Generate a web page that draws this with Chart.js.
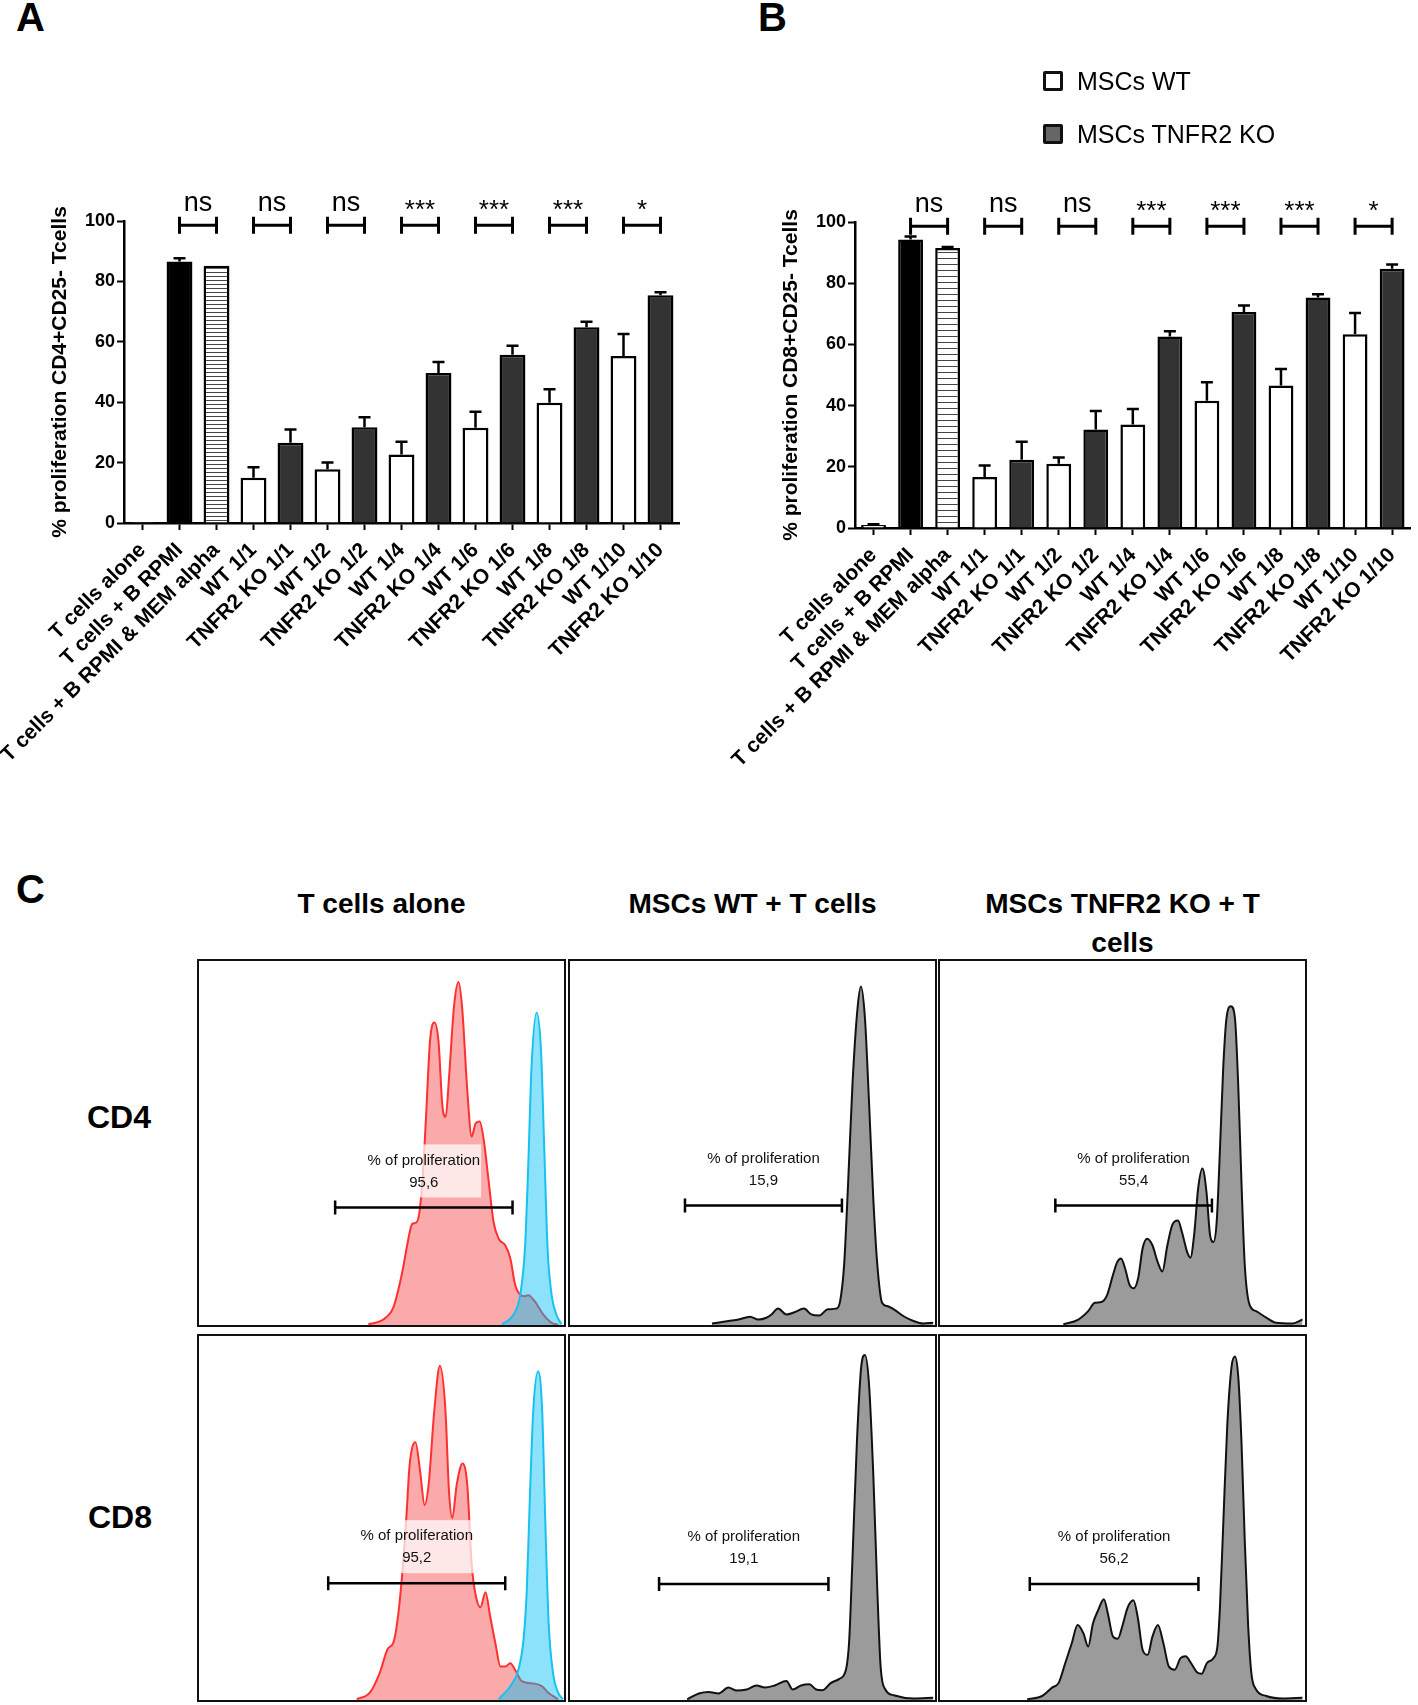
<!DOCTYPE html>
<html>
<head>
<meta charset="utf-8">
<title>MSCs TNFR2 KO – T cell proliferation</title>
<script src="https://cdn.jsdelivr.net/npm/chart.js@4.4.1/dist/chart.umd.min.js"></script>
<style>
  html, body { margin:0; padding:0; background:#fff; }
  body { width:1418px; height:1705px; position:relative; overflow:hidden; font-family:'Liberation Sans', Arial, sans-serif; color:#000; }
  .abs { position:absolute; }
  .letter { font-weight:bold; font-size:40px; line-height:40px; }
  .legend-row { display:flex; align-items:center; font-size:25px; height:26px; white-space:nowrap; }
  .swatch { width:20px; height:20px; box-sizing:border-box; border:3px solid #111; border-radius:2px; margin-right:14px; }
  .col-title { width:369px; text-align:center; font-weight:bold; font-size:28px; line-height:39px; }
  .row-title { font-weight:bold; font-size:32px; line-height:32px; }
  .hbox { width:369px; height:368px; box-sizing:border-box; border:2px solid #111; background:#fff; }
  .hbox canvas { display:block; }
</style>
</head>
<body>

<div class="abs letter" style="left:16px;top:-3px">A</div>
<div class="abs letter" style="left:758px;top:-3px">B</div>
<div class="abs letter" style="left:16px;top:869px">C</div>

<canvas id="chart-a" class="abs" style="left:0;top:0" width="702" height="780"></canvas>
<canvas id="chart-b" class="abs" style="left:730px;top:0" width="688" height="780"></canvas>

<div class="abs legend-row" style="left:1043px;top:68px"><span class="swatch" style="background:#fff"></span><span id="leg-0"></span></div>
<div class="abs legend-row" style="left:1043px;top:121px"><span class="swatch" style="background:#666"></span><span id="leg-1"></span></div>

<div class="abs col-title" style="left:197px;top:884px">T cells alone</div>
<div class="abs col-title" style="left:568px;top:884px">MSCs WT + T cells</div>
<div class="abs col-title" style="left:938px;top:884px">MSCs TNFR2 KO + T<br>cells</div>

<div class="abs row-title" style="left:87px;top:1101px">CD4</div>
<div class="abs row-title" style="left:88px;top:1501px">CD8</div>

<div class="abs hbox" style="left:197px;top:959px"><canvas id="h-cd4-alone" width="365" height="364"></canvas></div>
<div class="abs hbox" style="left:568px;top:959px"><canvas id="h-cd4-wt" width="365" height="364"></canvas></div>
<div class="abs hbox" style="left:938px;top:959px"><canvas id="h-cd4-ko" width="365" height="364"></canvas></div>
<div class="abs hbox" style="left:197px;top:1334px"><canvas id="h-cd8-alone" width="365" height="364"></canvas></div>
<div class="abs hbox" style="left:568px;top:1334px"><canvas id="h-cd8-wt" width="365" height="364"></canvas></div>
<div class="abs hbox" style="left:938px;top:1334px"><canvas id="h-cd8-ko" width="365" height="364"></canvas></div>

<script>
'use strict';

// ── Bar data (panels A & B) ───────────────────────────────────────────────────
var categories = ['T cells alone','T cells + B RPMI','T cells + B RPMI & MEM alpha',
  'WT 1/1','TNFR2 KO 1/1','WT 1/2','TNFR2 KO 1/2','WT 1/4','TNFR2 KO 1/4',
  'WT 1/6','TNFR2 KO 1/6','WT 1/8','TNFR2 KO 1/8','WT 1/10','TNFR2 KO 1/10'];
var barGroups = ['alone','rpmi','mem','wt','ko','wt','ko','wt','ko','wt','ko','wt','ko','wt','ko'];

var cd4Means = [0.3, 86.6, 85.2, 15.0, 26.6, 17.8, 31.7, 22.7, 49.7, 31.5, 55.7, 39.8, 64.8, 55.3, 75.4];
var cd4Sem   = [0,   1.1,  0,    3.5,  4.4,  2.2,  3.3,  4.2,  3.6,  5.3,  3.0,  4.5,  1.8,  7.3,  1.0];
var cd8Means = [1.0, 94.3, 91.5, 16.7, 22.3, 21.0, 32.2, 33.8, 62.6, 41.6, 70.6, 46.6, 75.3, 63.3, 84.7];
var cd8Sem   = [0.2, 1.0,  0.3,  3.7,  5.9,  2.0,  6.0,  5.1,  1.7,  6.0,  2.1,  5.4,  1.1,  7.0,  1.4];

var sigPairs  = [[1,2],[3,4],[5,6],[7,8],[9,10],[11,12],[13,14]];
var cd4Sig    = ['ns','ns','ns','***','***','***','*'];
var cd8Sig    = ['ns','ns','ns','***','***','***','*'];
var sigLevel  = 98.6;
var yTicks    = [0, 20, 40, 60, 80, 100];
var legendLabels = ['MSCs WT', 'MSCs TNFR2 KO'];

// ── Histogram data (panel C) : [channel, count] ──────────────────────────────
var cd4AloneStim = [[46.4,0.2],[50.5,1.5],[53.2,4.7],[54.5,9.2],[55.9,15.6],[57.2,22.8],[58.4,27.8],[59.5,28.1],[60.4,31],[61.3,40.9],[62.2,57.2],[63.3,78.1],[64.5,83.1],[65.6,78.1],[66.7,60],[67.6,57.2],[68.5,68],[69.9,87.9],[71.1,94.2],[72.1,87.1],[73.5,64.5],[74.7,51.8],[75.8,55.4],[76.9,55.9],[78,50.9],[79.4,39.1],[80.7,28.3],[82.1,23.7],[83.9,21.9],[85.3,18.3],[86.6,11.1],[88,8.3],[89.3,7.9],[90.2,8.2],[92,6.5],[94.3,2.9],[96.6,0.6],[98.4,0.1]];
var cd4AloneCtrl = [[83,0.2],[86.2,2.9],[88,8.3],[89.3,21],[90.2,43.7],[91.1,70.8],[92.5,85.8],[93.7,75.4],[94.6,48.2],[95.5,21],[96.6,8.3],[97.9,2.9],[99.3,0.2]];
var cd4Wt = [[38.9,0.4],[43.4,1.1],[46.2,1.5],[49.3,2.3],[51.6,1.5],[53.8,2],[55.2,2.9],[57,4.5],[59.3,2.9],[61.5,3.5],[64.1,4.5],[66.1,2.9],[68.3,2.6],[70.6,4.3],[72.9,4.5],[74,6.5],[75.1,16.5],[76.2,39.1],[77.4,66.3],[78.7,86.2],[79.7,93],[80.8,84.4],[81.9,61.8],[83.1,34.6],[84.2,16.5],[85.5,6.1],[86.9,5.2],[88.7,4.3],[91.4,2.4],[94.1,1.1],[96.8,0.4],[99.5,0.6]];
var cd4Ko = [[33.8,0.2],[37.9,1.5],[40.6,3.8],[42.4,6.1],[44.2,6.3],[45.8,8.3],[47.4,13.8],[48.6,17.4],[49.6,18.3],[50.7,15.6],[51.9,11.1],[53.1,10.1],[54.3,12.9],[55.5,21],[56.7,23.7],[58.2,21.9],[59.6,17.4],[60.9,14.7],[62.3,21.9],[63.6,27.4],[65.2,28.7],[66.3,25.5],[67.7,20.1],[68.6,18.5],[69.7,25.5],[70.7,37.3],[71.9,43],[73,36.6],[74,24.6],[74.9,22.8],[75.8,28.3],[76.7,48.2],[77.6,70.8],[78.5,84.4],[79.7,87.6],[80.8,84.4],[81.7,66.1],[82.6,39],[83.5,16.5],[84.8,5.6],[86.6,3.8],[89.4,2],[92.1,0.6],[96.6,0.4],[99.3,1.5]];
var cd8AloneStim = [[43.2,0.2],[46.8,2],[49.5,7.4],[51.8,14.2],[53.2,15.6],[54.5,22.8],[55.9,37.3],[56.8,50],[57.7,64.5],[59.3,70.8],[60.6,62.7],[61.8,53.6],[62.9,59.1],[64.5,79.9],[66,91.8],[67.5,79.9],[68.5,57.2],[69.4,50],[70.6,59.1],[72.2,65],[73.5,59.1],[74.7,37.3],[75.9,28.3],[77.1,25.5],[78.5,29.6],[79.8,22.8],[81.2,15.6],[82.6,9.2],[83.9,9.2],[85.3,10.1],[86.6,8.3],[88.4,5.2],[92,4.5],[93.9,3.8],[95.7,2],[98.4,0.2]];
var cd8AloneCtrl = [[82.1,0.2],[85.3,3.8],[87.5,8.3],[88.9,16.5],[89.8,30],[90.7,57.2],[91.6,79.9],[92.9,90.3],[94,79.9],[94.9,48.2],[95.8,21],[97,7.4],[98.4,2],[99.7,0.2]];
var cd8Wt = [[32.1,0.2],[35.3,1.8],[38,2.2],[40.7,1.8],[43.4,3.4],[45.7,2.6],[48.4,2.9],[51.1,4],[53.4,3.4],[56.1,4],[59.3,5.2],[61,2.9],[63.3,4],[65.6,4.3],[67.4,2.9],[69.2,2.7],[71.5,4.7],[73.8,5.8],[75.6,8.3],[76.5,16.5],[77.4,39.1],[78.6,70.8],[79.8,91.7],[80.8,94.8],[81.9,87.1],[83.1,61.8],[84.2,30.1],[85.1,9.2],[86.4,2.9],[88.7,1.3],[94.1,0.4],[99.5,0.6]];
var cd8Ko = [[23.9,0.2],[28,1.1],[30.7,3.4],[32.5,4.7],[34.3,10.1],[36.1,15.6],[37.7,20.6],[39.3,18.3],[40.6,14.7],[41.9,21],[43.3,24.6],[44.9,27.7],[46,23.7],[47.4,17.4],[48.7,16.8],[50.1,20.8],[51.4,25.4],[53,27.4],[54.2,22.6],[55.5,13.8],[56.9,12.4],[58.2,17.4],[59.7,20.6],[61.2,15.6],[62.7,9.2],[64.3,8.3],[65.9,11.5],[67.3,12],[68.8,10.1],[70.4,7.6],[71.7,7.2],[73.1,10.1],[74.9,11.5],[76,14.7],[76.7,25.5],[77.6,48.2],[78.7,75.4],[79.9,91.7],[80.8,94.4],[81.7,89],[82.6,70.8],[83.5,43.7],[84.4,21],[85.3,7.4],[86.6,2.9],[89.4,1.1],[93.9,0.4],[99.3,0.6]];

// gates (one per histogram, order: CD4 alone, WT, KO, CD8 alone, WT, KO)
var gateFrom   = [37.3, 31.5, 31.6, 35.4, 24.4, 24.6];
var gateTo     = [85.9, 74.5, 74.5, 83.9, 70.8, 70.8];
var gateLevel  = [32.3, 32.8, 32.8, 32.1, 31.9, 31.9];
var gateValues = ['95,6', '15,9', '55,4', '95,2', '19,1', '56,2'];

// ── Shared bits ───────────────────────────────────────────────────────────────
var FONT = "'Liberation Sans', Arial, sans-serif";
var groupFill = { alone:'#ffffff', rpmi:'#000000', wt:'#ffffff', ko:'#333333' };

function stripePattern(ctx, gap) {
  var c = document.createElement('canvas'); c.width = 8; c.height = gap;
  var x = c.getContext('2d');
  x.fillStyle = '#fff'; x.fillRect(0, 0, 8, gap);
  x.fillStyle = '#444'; x.fillRect(0, 0, 8, 1);
  return ctx.createPattern(c, 'repeat');
}

// upward-only SEM whiskers
var errorBars = {
  id: 'errorBars',
  afterDatasetsDraw: function(chart) {
    var o = chart.options.plugins.errorBars; if (!o) return;
    var meta = chart.getDatasetMeta(0), ys = chart.scales.y, ctx = chart.ctx;
    var means = chart.data.datasets[0].data;
    ctx.save(); ctx.strokeStyle = '#000'; ctx.lineWidth = 2.5;
    meta.data.forEach(function(bar, i) {
      var s = o.sem[i]; if (!s) return;
      var y0 = ys.getPixelForValue(means[i]), y1 = ys.getPixelForValue(means[i] + s);
      ctx.beginPath();
      ctx.moveTo(bar.x, y0); ctx.lineTo(bar.x, y1);
      ctx.moveTo(bar.x - 6, y1); ctx.lineTo(bar.x + 6, y1);
      ctx.stroke();
    });
    ctx.restore();
  }
};

// significance brackets above the pairs
var sigBrackets = {
  id: 'sigBrackets',
  afterDraw: function(chart) {
    var o = chart.options.plugins.sigBrackets; if (!o) return;
    var xs = chart.scales.x, ys = chart.scales.y, ctx = chart.ctx;
    var y = ys.getPixelForValue(o.level);
    ctx.save();
    ctx.strokeStyle = '#000'; ctx.fillStyle = '#000'; ctx.lineWidth = 3;
    ctx.textAlign = 'center'; ctx.textBaseline = 'alphabetic';
    o.pairs.forEach(function(p, k) {
      var x0 = xs.getPixelForValue(p[0]), x1 = xs.getPixelForValue(p[1]);
      ctx.beginPath();
      ctx.moveTo(x0, y); ctx.lineTo(x1, y);
      ctx.moveTo(x0, y - 8.5); ctx.lineTo(x0, y + 8.5);
      ctx.moveTo(x1, y - 8.5); ctx.lineTo(x1, y + 8.5);
      ctx.stroke();
      var lab = o.labels[k];
      if (lab === 'ns') { ctx.font = '27px ' + FONT; ctx.fillText(lab, (x0 + x1) / 2, y - 14); }
      else { ctx.font = '26px ' + FONT; ctx.fillText(lab, (x0 + x1) / 2, y - 7); }
    });
    ctx.restore();
  }
};

// gate bar + label on flow histograms
var gateMarker = {
  id: 'gateMarker',
  afterDatasetsDraw: function(chart) {
    var g = chart.options.plugins.gateMarker; if (!g) return;
    var xs = chart.scales.x, ys = chart.scales.y, ctx = chart.ctx;
    var x0 = xs.getPixelForValue(g.from), x1 = xs.getPixelForValue(g.to);
    var y = ys.getPixelForValue(g.level), cx = (x0 + x1) / 2;
    ctx.save();
    ctx.font = '15px ' + FONT;
    var w = ctx.measureText('% of proliferation').width;
    ctx.fillStyle = 'rgba(255,255,255,0.72)';
    ctx.fillRect(cx - w / 2 - 1, y - 63, w + 2, 53);
    ctx.fillStyle = '#111'; ctx.textAlign = 'center'; ctx.textBaseline = 'middle';
    ctx.fillText('% of proliferation', cx, y - 47);
    ctx.fillText(g.value, cx, y - 25);
    ctx.strokeStyle = '#000'; ctx.lineWidth = 2.5;
    ctx.beginPath();
    ctx.moveTo(x0, y); ctx.lineTo(x1, y);
    ctx.moveTo(x0, y - 7); ctx.lineTo(x0, y + 7);
    ctx.moveTo(x1, y - 7); ctx.lineTo(x1, y + 7);
    ctx.stroke();
    ctx.restore();
  }
};

// ── Bar charts ────────────────────────────────────────────────────────────────
function makeBarChart(id, means, sem, sig, title, geom) {
  var canvas = document.getElementById(id), ctx = canvas.getContext('2d');
  var colors = barGroups.map(function(g) { return g === 'mem' ? stripePattern(ctx, geom.stripe) : groupFill[g]; });
  return new Chart(canvas, {
    type: 'bar',
    data: {
      labels: categories,
      datasets: [{ data: means, backgroundColor: colors, borderColor: '#000', borderWidth: 2.5,
                   barPercentage: geom.bar, categoryPercentage: 1 }]
    },
    options: {
      responsive: false, animation: false, events: [],
      layout: { padding: { top: geom.top, right: geom.right, left: 0, bottom: 0 } },
      plugins: {
        legend: { display: false }, tooltip: { enabled: false },
        errorBars: { sem: sem },
        sigBrackets: { pairs: sigPairs, labels: sig, level: sigLevel }
      },
      scales: {
        x: {
          grid: { display: true, offset: false, drawOnChartArea: false, drawTicks: true, tickLength: 7, tickWidth: 2, tickColor: '#000' },
          border: { display: true, color: '#000', width: 2.5 },
          ticks: { color: '#000', font: { family: FONT, weight: 'bold', size: 21 }, minRotation: 45, maxRotation: 45, autoSkip: false, padding: 8 },
          afterFit: function(s) { s.height = geom.xAxisHeight; }
        },
        y: {
          min: 0, max: 100,
          afterBuildTicks: function(s) { s.ticks = yTicks.map(function(v) { return { value: v }; }); },
          grid: { drawOnChartArea: false, drawTicks: true, tickLength: 7, tickWidth: 2, tickColor: '#000' },
          border: { display: true, color: '#000', width: 2.5 },
          ticks: { color: '#000', font: { family: FONT, weight: 'bold', size: 18 }, padding: 2 },
          title: { display: true, text: title, color: '#000', font: { family: FONT, weight: 'bold', size: 21 },
                   padding: { top: geom.titlePad, bottom: 0 } },
          afterFit: function(s) { s.width = geom.yAxisWidth; }
        }
      }
    },
    plugins: [errorBars, sigBrackets]
  });
}

makeBarChart('chart-a', cd4Means, cd4Sem, cd4Sig, '% proliferation CD4+CD25- Tcells',
  { top: 221, right: 23, xAxisHeight: 257, yAxisWidth: 124, titlePad: 48, bar: 0.70, stripe: 4 });
makeBarChart('chart-b', cd8Means, cd8Sem, cd8Sig, '% proliferation CD8+CD25- Tcells',
  { top: 222, right: 2, xAxisHeight: 252, yAxisWidth: 125, titlePad: 49, bar: 0.67, stripe: 6 });

document.getElementById('leg-0').textContent = legendLabels[0];
document.getElementById('leg-1').textContent = legendLabels[1];

// ── Flow histograms ───────────────────────────────────────────────────────────
var STIM = { line: '#ff3030', fill: 'rgba(245,85,85,0.5)',  order: 1 };
var CTRL = { line: '#17c2f0', fill: 'rgba(0,190,245,0.45)', order: 0 };
var GREY = { line: '#111111', fill: '#9b9b9b',              order: 0 };

function makeHistogram(id, series, k) {
  new Chart(document.getElementById(id), {
    type: 'line',
    data: {
      datasets: series.map(function(s) {
        return {
          data: s.points.map(function(p) { return { x: p[0], y: p[1] }; }),
          borderColor: s.style.line, backgroundColor: s.style.fill, borderWidth: 2,
          fill: 'origin', pointRadius: 0, cubicInterpolationMode: 'monotone', order: s.style.order
        };
      })
    },
    options: {
      responsive: false, animation: false, events: [],
      layout: { padding: 0 },
      plugins: {
        legend: { display: false }, tooltip: { enabled: false },
        gateMarker: { from: gateFrom[k], to: gateTo[k], level: gateLevel[k], value: gateValues[k] }
      },
      scales: {
        x: { type: 'linear', min: 0, max: 100, display: false },
        y: { min: 0, max: 100, display: false }
      }
    },
    plugins: [gateMarker]
  });
}

makeHistogram('h-cd4-alone', [{ points: cd4AloneStim, style: STIM }, { points: cd4AloneCtrl, style: CTRL }], 0);
makeHistogram('h-cd4-wt',    [{ points: cd4Wt, style: GREY }], 1);
makeHistogram('h-cd4-ko',    [{ points: cd4Ko, style: GREY }], 2);
makeHistogram('h-cd8-alone', [{ points: cd8AloneStim, style: STIM }, { points: cd8AloneCtrl, style: CTRL }], 3);
makeHistogram('h-cd8-wt',    [{ points: cd8Wt, style: GREY }], 4);
makeHistogram('h-cd8-ko',    [{ points: cd8Ko, style: GREY }], 5);
</script>
</body>
</html>
